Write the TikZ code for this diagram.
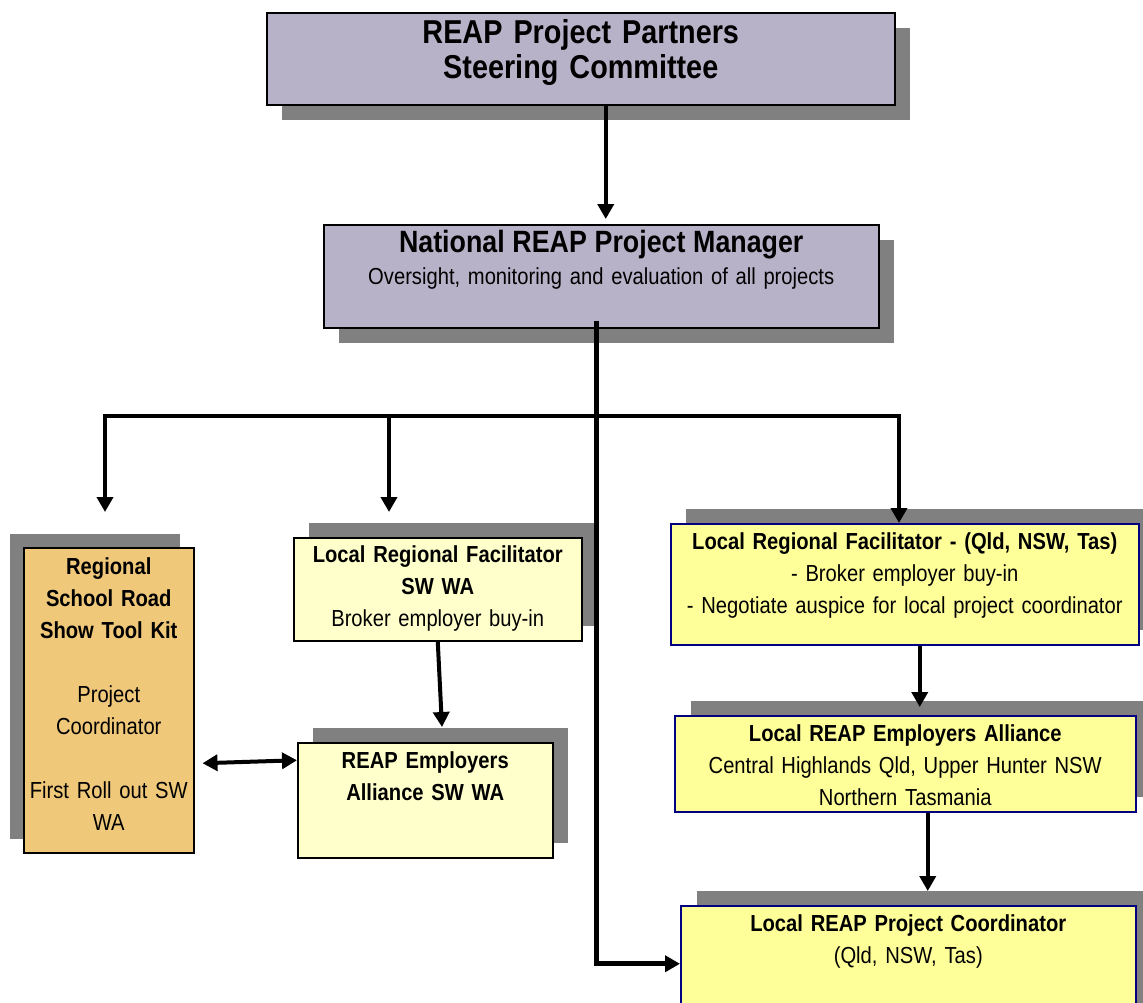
\documentclass[tikz,border=0pt]{standalone}
\usepackage{fontspec}
\setmainfont{Liberation Sans}[FakeStretch=0.87]
\usetikzlibrary{arrows.meta,shadows}
\definecolor{lav}{RGB}{184,178,200}
\definecolor{kit}{RGB}{240,200,122}
\definecolor{pale}{RGB}{255,255,204}
\definecolor{yel}{RGB}{255,255,153}
\definecolor{navy}{RGB}{0,0,128}
\definecolor{shadowgray}{RGB}{128,128,128}
\begin{document}
\begin{tikzpicture}[x=1pt, y=-1pt,
  box/.style={draw, line width=1.5pt, inner sep=0pt, anchor=north west, align=center, text height=25.5pt, font=\fontsize{23.2}{32}\selectfont},
  sz/.style 2 args={text width=#1, text depth=#2},
  shad/.style 2 args={drop shadow={shadow xshift=#1, shadow yshift=#2, fill=shadowgray, opacity=1}},
  arr/.style={line width=4pt, -{Triangle[width=16pt,length=15pt]}},
  dbl/.style={line width=4pt, {Triangle[width=16pt,length=15pt]}-{Triangle[width=16pt,length=15pt]}}]
\useasboundingbox (0,0) rectangle (1143,1002);
\node[box, fill=lav, sz={628pt}{61pt}, text height=31pt, shad={15pt}{-15pt}, font=\fontsize{33.1}{35}\selectfont\bfseries] (a01) at (266,12) {REAP Project Partners\\Steering Committee};
\node[box, fill=lav, sz={555pt}{75pt}, text height=28pt, shad={15pt}{-15pt}] (a11) at (323,224) {{\bfseries\fontsize{30.8}{32}\selectfont National REAP Project Manager}\\Oversight, monitoring and evaluation of all projects};
\node[box, fill=kit, sz={170pt}{278.5pt}, text height=26.5pt, shad={-14pt}{14pt}] (a21) at (23,547) {\textbf{Regional}\\\textbf{School Road}\\\textbf{Show Tool Kit}\\[32pt]Project\\Coordinator\\[32pt]First Roll out SW\\WA};
\node[box, fill=pale, sz={288pt}{78.5pt}, text height=24.5pt, shad={15pt}{15pt}] (a22) at (293,537) {\textbf{Local Regional Facilitator}\\\textbf{SW WA}\\Broker employer buy-in};
\node[box, fill=yel, draw=navy, sz={468pt}{95.5pt}, shad={15pt}{15pt}] (a23) at (670,523) {\textbf{Local Regional Facilitator - (Qld, NSW, Tas)}\\- Broker employer buy-in\\- Negotiate auspice for local project coordinator};
\node[box, fill=pale, sz={255pt}{89.5pt}, shad={15pt}{15pt}] (a31) at (297,742) {\textbf{REAP Employers}\\\textbf{Alliance SW WA}};
\node[box, fill=yel, draw=navy, sz={461pt}{70.5pt}, shad={16pt}{15pt}] (a32) at (674,715) {\textbf{Local REAP Employers Alliance}\\Central Highlands Qld, Upper Hunter NSW\\Northern Tasmania};
\node[box, fill=yel, draw=navy, sz={455pt}{90.5pt}, shad={16pt}{15pt}] (a41) at (680,905) {\textbf{Local REAP Project Coordinator}\\(Qld, NSW, Tas)};
\coordinate (b1) at (105,416);
\coordinate (b2) at (389,416);
\coordinate (b3) at (899,416);
\draw[arr, shorten >=5pt] ([xshift=25pt]a01.south) -- ([xshift=4.5pt]a11.north);
\draw[arr, line width=5pt] ([shift={(-5,-8)}]a11.south) |- (a41.west);
\draw[arr, shorten >=35pt] (b2) -- (b1) -- (b1 |- a21.north);
\draw[arr] (b2) -- (b3) -- (b3 |- a23.north);
\draw[arr, shorten >=25pt] (b2) -- (b2 |- a22.north);
\draw[arr, shorten >=15pt] (a22.south) -- ([xshift=17.5pt]a31.north);
\draw[dbl] ([shift={(8,63)}]a21.east) -- ([yshift=40pt]a31.west);
\draw[arr, shorten >=8pt] ([xshift=15pt]a23.south) -- ([xshift=14.5pt]a32.north);
\draw[arr, shorten >=14pt] ([xshift=22.5pt]a32.south) -- ([xshift=19.5pt]a41.north);
\end{tikzpicture}
\end{document}
